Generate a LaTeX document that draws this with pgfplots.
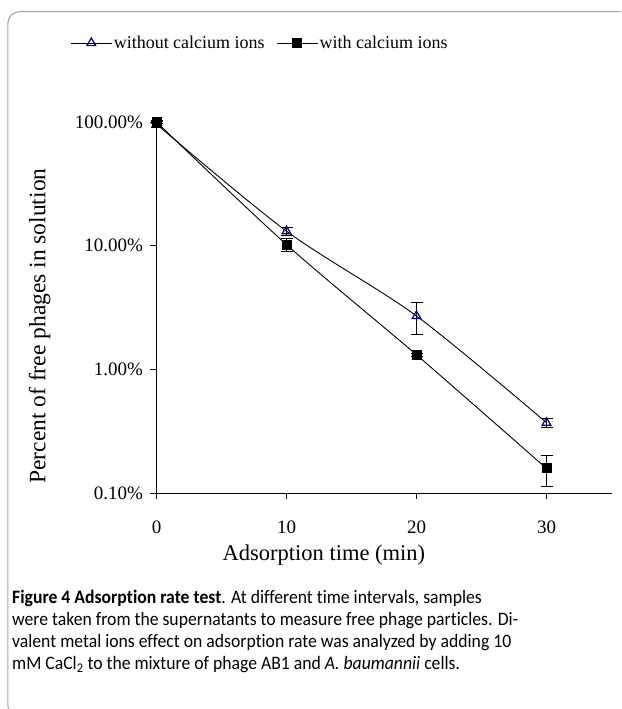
\documentclass[border=0pt]{standalone}
\usepackage{fontspec}
\setmainfont{Liberation Serif}
\newfontfamily\capfont[FakeStretch=0.93, Ligatures=NoCommon]{Carlito}
\usepackage{pgfplots}
\pgfplotsset{compat=1.18}
\definecolor{navyb}{HTML}{000080}
\begin{document}
\begin{tikzpicture}[x=1pt,y=1pt]
\clip (0,0) rectangle (621,709);
\path[use as bounding box] (0,0) rectangle (621,709);
\draw[gray!70, line width=1.1pt, rounded corners=12pt] (660,-8) -- (7.8,-8) -- (7.8,697.3) -- (660,697.3);
\begin{axis}[
  at={(156.5pt,216pt)}, anchor=south west,
  scale only axis, width=455pt, height=371pt,
  xmin=0, xmax=35, ymode=log, ymin=0.1, ymax=100,
  axis x line=bottom, axis y line=left,
  axis line style={-, line width=0.8pt},
  xtick={0,10,20,30}, ytick={0.1,1,10,100},
  yticklabels={0.10\%,1.00\%,10.00\%,100.00\%},
  yminorticks=false,
  tick align=outside, major tick length=6pt,
  tick style={black, line width=0.8pt},
  /pgf/number format/assume math mode=true,
  ticklabel style={font=\fontsize{19}{19}\selectfont},
  xticklabel style={yshift=-18pt},
  yticklabel style={xshift=-4pt},
  xlabel={Adsorption time (min)},
  ylabel={Percent of free phages in solution},
  xlabel style={font=\fontsize{22.5}{22.5}\selectfont, at={(axis description cs:0.368,-0.167)}, anchor=center},
  ylabel style={font=\fontsize{23.5}{23.5}\selectfont, at={(axis description cs:-0.257,0.45)}, anchor=center},
  clip=false,
  legend columns=2,
  legend style={at={(axis description cs:0.228,1.213)}, anchor=center, draw=none, fill=none,
    font=\fontsize{18}{18}\selectfont, /tikz/every even column/.append style={column sep=10pt}},
  legend image code/.code={\draw[mark repeat=2,mark phase=2,#1] plot coordinates {(0pt,0pt) (20pt,0pt) (40pt,0pt)};},
  error bars/error bar style={black, line width=0.8pt},
  error bars/error mark options={rotate=90, mark size=6pt, black, line width=0.8pt},
]
\addplot[black, line width=0.9pt, smooth, mark=triangle, mark size=5pt,
  mark options={draw=navyb, line width=1.2pt, fill=white, solid},
  error bars/.cd, y dir=both, y explicit]
  coordinates {(0,96) +- (0,5) (10,13.1) +- (0,0.9) (20,2.7) +- (0,0.8) (30,0.37) +- (0,0.03)};
\addlegendentry{without calcium ions}
\addplot[black, line width=0.9pt, smooth, mark=square*, mark size=4.5pt,
  mark options={draw=black, fill=black, solid},
  error bars/.cd, y dir=both, y explicit]
  coordinates {(0,100) +- (0,3) (10,10.2) +- (0,1.2) (20,1.31) +- (0,0.04) (30,0.158) +- (0,0.045)};
\addlegendentry{with calcium ions}
\end{axis}
\node[anchor=base west, inner sep=0pt, align=left, font=\capfont\fontsize{19}{22.3}\selectfont] at (12,39)
 {\textbf{Figure 4 Adsorption rate test}. At different time intervals, samples\\
 were taken from the supernatants to measure free phage particles. Di-\\
 valent metal ions effect on adsorption rate was analyzed by adding 10\\
 mM CaCl\textsubscript{2} to the mixture of phage AB1 and \textit{A. baumannii} cells.};
\end{tikzpicture}
\end{document}
